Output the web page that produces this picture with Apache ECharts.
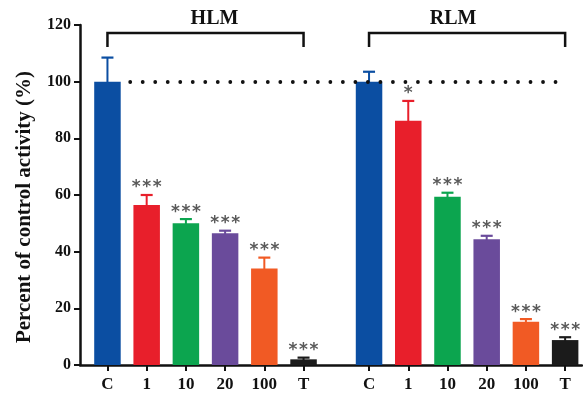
<!DOCTYPE html>
<html>
<head>
<meta charset="utf-8">
<script src="https://cdn.jsdelivr.net/npm/echarts@6/dist/echarts.min.js"></script>
<style>html,body{margin:0;padding:0;background:#fff}#c{width:583px;height:413px}</style>
</head>
<body>
<div id="c"></div>
<script>
// ---- data ----
var groups = ['HLM', 'RLM'];
var categories = ['C', '1', '10', '20', '100', 'T'];
var hlmValues = [100, 56.5, 50.0, 46.5, 34.1, 2.0];
var hlmErrors = [8.5, 3.5, 1.5, 0.9, 3.8, 0.6];
var hlmSig = ['', '***', '***', '***', '***', '***'];
var rlmValues = [100, 86.2, 59.4, 44.4, 15.3, 8.8];
var rlmErrors = [3.5, 7.0, 1.4, 1.2, 0.9, 1.0];
var rlmSig = ['', '*', '***', '***', '***', '***'];
var yTicks = [0, 20, 40, 60, 80, 100, 120];
var referenceLevel = 100;

// ---- layout / style constants ----
var groupOffset = 6.67;
var colors = ['#0b4ea2', '#e81f2b', '#0ca54f', '#6a4b9b', '#f15a24', '#1b1b1b'];
var serif = '"Liberation Serif", "DejaVu Serif", serif';
var textOffsets = [9, -14];
var starSpacing = 10.5;

var valuesByGroup = [hlmValues, rlmValues];
var errorsByGroup = [hlmErrors, rlmErrors];
var sigByGroup = [hlmSig, rlmSig];

var barData = [], errData = [], positions = [], labels = [], bracketData = [];
groups.forEach(function (g, gi) {
  categories.forEach(function (c, ci) {
    var p = gi * groupOffset + ci;
    positions.push(p);
    labels.push(c);
    barData.push({ value: [p, valuesByGroup[gi][ci]], itemStyle: { color: colors[ci] } });
    errData.push([p, valuesByGroup[gi][ci], errorsByGroup[gi][ci], sigByGroup[gi][ci], ci]);
  });
  bracketData.push([gi * groupOffset, gi * groupOffset + categories.length - 1, gi]);
});

function labelFor(v) {
  for (var i = 0; i < positions.length; i++) {
    if (Math.abs(positions[i] - v) < 0.01) return labels[i];
  }
  return '';
}

var chart = echarts.init(document.getElementById('c'), null, { renderer: 'canvas' });
chart.setOption({
  animation: false,
  backgroundColor: '#fff',
  grid: { left: 80, right: 1, top: 25, bottom: 48, containLabel: false },
  xAxis: {
    type: 'value', min: -0.7, max: 12.1,
    splitLine: { show: false },
    axisLine: { show: true, onZero: false, lineStyle: { color: '#111', width: 2.5 } },
    axisTick: { show: true, customValues: positions, length: 6, lineStyle: { color: '#111', width: 2 } },
    axisLabel: {
      customValues: positions, formatter: function (v) { return labelFor(v); },
      color: '#111', fontFamily: serif, fontWeight: 'bold', fontSize: 17, margin: 11
    }
  },
  yAxis: {
    type: 'value', min: 0, max: 120, interval: 20,
    name: 'Percent of control activity (%)',
    nameLocation: 'middle', nameGap: 45,
    nameTextStyle: { color: '#111', fontFamily: serif, fontWeight: 'bold', fontSize: 21, padding: [0, 24, 0, 0] },
    splitLine: { show: false },
    axisLine: { show: true, onZero: false, lineStyle: { color: '#111', width: 2.5 } },
    axisTick: { show: true, length: 6, lineStyle: { color: '#111', width: 2 } },
    axisLabel: {
      customValues: yTicks,
      color: '#111', fontFamily: serif, fontWeight: 'bold', fontSize: 16, margin: 9
    }
  },
  series: [
    {
      type: 'bar', data: barData, barWidth: 26.5, z: 2,
      markLine: {
        silent: true, symbol: 'none', label: { show: false },
        lineStyle: { type: [0.01, 12.5], cap: 'round', width: 3.8, color: '#111' },
        data: [[{ coord: [0.58, referenceLevel] }, { coord: [11.6, referenceLevel] }]]
      }
    },
    {
      type: 'custom', z: 3,
      data: errData,
      renderItem: function (params, api) {
        var x = api.value(0), v = api.value(1), e = api.value(2);
        var sig = errData[params.dataIndex][3];
        var color = colors[api.value(4)];
        var p0 = api.coord([x, v]);
        var p1 = api.coord([x, v + e]);
        var half = 6;
        var children = [
          { type: 'line', shape: { x1: p0[0], y1: p0[1] + 1, x2: p1[0], y2: p1[1] }, style: { stroke: color, lineWidth: 2 } },
          { type: 'line', shape: { x1: p1[0] - half, y1: p1[1], x2: p1[0] + half, y2: p1[1] }, style: { stroke: color, lineWidth: 2.2 } }
        ];
        var n = sig.length;
        for (var k = 0; k < n; k++) {
          children.push({
            type: 'text',
            style: {
              text: '*', x: p1[0] + (k - (n - 1) / 2) * starSpacing, y: p1[1] - 7,
              align: 'center', verticalAlign: 'middle',
              fill: '#5a5a5a', font: 'bold 17px "DejaVu Sans", sans-serif'
            }
          });
        }
        return { type: 'group', children: children };
      }
    },
    {
      type: 'custom', z: 4, clip: false,
      data: bracketData,
      renderItem: function (params, api) {
        var a = api.coord([api.value(0), 117.2]);
        var b = api.coord([api.value(1), 117.2]);
        var leg = 14;
        var gi = api.value(2);
        return {
          type: 'group',
          children: [
            { type: 'polyline', shape: { points: [[a[0], a[1] + leg], [a[0], a[1]], [b[0], b[1]], [b[0], b[1] + leg]] },
              style: { stroke: '#111', lineWidth: 2.5, fill: null } },
            { type: 'text', style: { text: groups[gi], x: (a[0] + b[0]) / 2 + textOffsets[gi], y: a[1] - 14,
              align: 'center', verticalAlign: 'middle', fill: '#111', font: 'bold 20px ' + serif } }
          ]
        };
      }
    }
  ]
});
</script>
</body>
</html>
